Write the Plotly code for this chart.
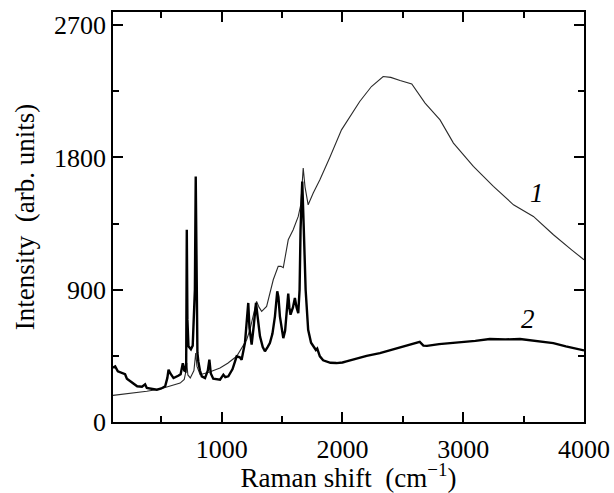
import plotly.graph_objects as go

# Curve 1 (thin)
x1 = [100, 200, 300, 380, 490, 600, 656, 690, 700, 711, 720, 740, 770, 785, 795, 821, 900, 986,
      1050, 1124, 1207, 1234, 1260, 1289, 1310, 1331, 1372, 1400, 1427, 1468, 1490, 1510, 1530,
      1551, 1592, 1634, 1655, 1675, 1690, 1716, 1758, 1813, 1895, 1992, 2143, 2240, 2337, 2400,
      2477, 2574, 2684, 2808, 2919, 3084, 3250, 3416, 3581, 3747, 3900, 4000]
y1 = [181, 190, 198, 209, 224, 250, 265, 290, 330, 401, 320, 300, 350, 469, 380, 322, 340, 367,
      400, 447, 560, 628, 720, 821, 780, 753, 787, 880, 968, 1059, 1060, 1050, 1150,
      1240, 1308, 1399, 1480, 1728, 1600, 1478, 1558, 1649, 1800, 1988, 2181, 2283, 2351, 2345,
      2324, 2301, 2170, 2056, 1898, 1739, 1603, 1478, 1399, 1274, 1170, 1104]

# Curve 2 (thick)
x2 = [100, 118, 140, 175, 200, 215, 260, 300, 340, 366, 380, 420, 463, 500, 532, 550, 560, 575,
      601, 640, 660, 678, 690, 700, 706, 711, 716, 725, 745, 760, 771, 778, 785, 791, 799, 807,
      820, 835, 862, 885, 898, 910, 930, 986, 1014, 1030, 1055, 1090, 1124, 1150, 1165, 1193,
      1213, 1220, 1230, 1248, 1265, 1284, 1300, 1317, 1340, 1358, 1380, 1399, 1420, 1441, 1460,
      1470, 1482, 1510, 1525, 1537, 1551, 1560, 1570, 1590, 1606, 1620, 1634, 1645, 1653, 1667,
      1675, 1680, 1695, 1716, 1740, 1758, 1780, 1791, 1800, 1813, 1840, 1868, 1900, 1950, 2000,
      2033, 2129, 2200, 2310, 2450, 2560, 2640, 2670, 2700, 2800, 2970, 3100, 3220, 3350, 3470,
      3600, 3746, 3850, 3950, 4000]
y2 = [370, 378, 345, 333, 325, 295, 265, 243, 240, 256, 232, 225, 220, 228, 243, 300, 356, 330,
      299, 315, 325, 400, 350, 345, 400, 1308, 700, 515, 495, 520, 741, 900, 1671, 900, 470, 410,
      350, 311, 299, 350, 424, 330, 295, 288, 322, 305, 311, 360, 447, 440, 424, 540,
      800, 810, 640, 526, 650, 810, 700, 583, 510, 481, 510, 537, 600, 719, 889,
      850, 719, 571, 620, 719, 873, 780, 730, 780, 844, 780, 741, 900, 1308, 1637,
      1500, 1308, 900, 628, 540, 515, 490, 500, 470, 447, 420, 413, 403, 401, 405,
      413, 435, 450, 469, 500, 526, 545, 520, 518, 530, 541, 552, 565, 562, 565,
      550, 537, 515, 495, 487]

x_ticks = [1000, 2000, 3000, 4000]
y_ticks = [0, 900, 1800, 2700]
curve_labels = ["1", "2"]
label_x = [3609, 3539]
label_y = [1560, 700]

FONT = "Liberation Serif, Times New Roman, serif"

fig = go.Figure()
fig.add_trace(go.Scatter(x=x1, y=y1, mode="lines",
                         line=dict(color="#2a2a2a", width=1.1), showlegend=False))
fig.add_trace(go.Scatter(x=x2, y=y2, mode="lines",
                         line=dict(color="black", width=2.4), showlegend=False))

for t, lx, ly in zip(curve_labels, label_x, label_y):
    fig.add_annotation(x=lx, y=ly, text="<i>" + t + "</i>", showarrow=False,
                       font=dict(family=FONT, size=27, color="black"))

axis_common = dict(showline=True, linecolor="black", linewidth=1.5, mirror="ticks",
                   ticks="inside", ticklen=10, tickwidth=1.5, tickcolor="black",
                   showgrid=False, zeroline=False, automargin=False,
                   tickfont=dict(family=FONT, size=26, color="black"))

fig.update_xaxes(range=[100, 4000], tickvals=x_ticks, ticktext=[str(v) for v in x_ticks],
                 ticklabelstandoff=3,
                 minor=dict(dtick=500, tick0=0, ticks="inside", ticklen=6, tickwidth=1.5,
                            tickcolor="black", showgrid=False),
                 title=dict(text="Raman shift&nbsp; (cm<sup>−1</sup>)",
                            font=dict(family=FONT, size=27, color="black"), standoff=2),
                 **axis_common)
fig.update_yaxes(range=[0, 2790], tickvals=y_ticks, ticktext=[str(v) for v in y_ticks],
                 minor=dict(dtick=450, tick0=0, ticks="inside", ticklen=6, tickwidth=1.5,
                            tickcolor="black", showgrid=False),
                 title=dict(text="Intensity&nbsp; (arb. units)",
                            font=dict(family=FONT, size=27, color="black"), standoff=12),
                 **axis_common)

fig.update_layout(width=614, height=493, margin=dict(l=113, r=30, t=12, b=71),
                  plot_bgcolor="white", paper_bgcolor="white")

fig.write_html("out.html", config={"displayModeBar": False},
               post_script="document.body.style.margin='0';document.body.style.padding='0';")
